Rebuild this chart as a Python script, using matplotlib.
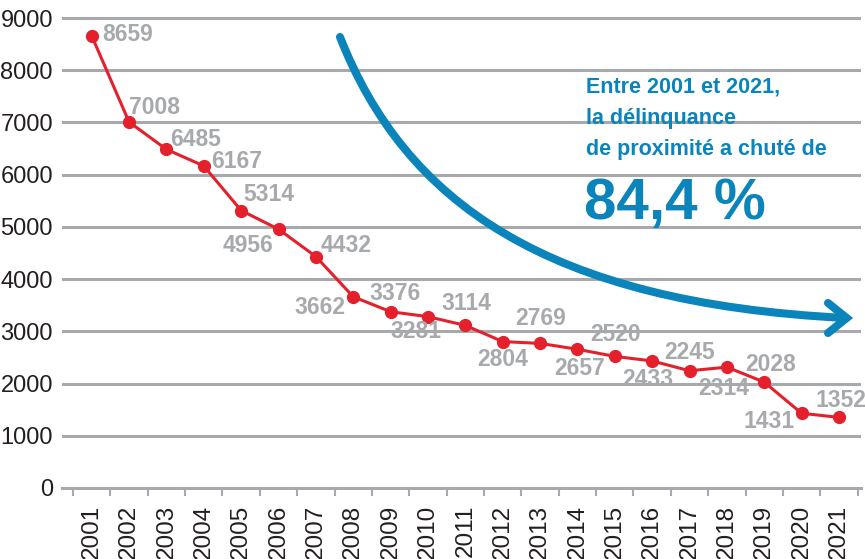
import matplotlib
matplotlib.use("Agg")
import matplotlib.pyplot as plt
from matplotlib.path import Path
from matplotlib.patches import PathPatch
from matplotlib.ticker import MultipleLocator, FixedLocator

years = list(range(2001, 2022))
values = [8659, 7008, 6485, 6167, 5314, 4956, 4432, 3662, 3376, 3281, 3114,
          2804, 2769, 2657, 2520, 2433, 2245, 2314, 2028, 1431, 1352]
# label centre offsets from each point, in pixels (x right, y up)
label_offsets = [(36, 1), (25, 15), (29, 10), (33, 4), (28, 16), (-31, -16),
                 (30, 11), (-33, -11), (4, 18), (-12, -15), (1, 22), (0, -18),
                 (1, 25), (2, -19), (1, 22), (-4, -19), (0, 18), (-3, -21),
                 (6, 18), (-33, -8), (2, 17)]
note_lines = ["Entre 2001 et 2021,", "la délinquance", "de proximité a chuté de"]
note_big = "84,4 %"

W, H = 865, 559
grey = "#a7a9ac"
red = "#e3202b"
blue = "#0a84bb"
plt.rcParams['font.family'] = ['Liberation Sans', 'DejaVu Sans']

fig = plt.figure(figsize=(W / 100, H / 100), dpi=100)
ax = fig.add_axes([62 / W, 1 - 488 / H, (861 - 62) / W, (488 - 12.8) / H])

ax.plot(years, values, color=red, lw=2.2, marker="o", ms=8.5, zorder=3,
        clip_on=False)
for x, v, (dx, dy) in zip(years, values, label_offsets):
    ax.annotate(str(v), (x, v), xytext=(dx, dy), textcoords="offset pixels",
                ha="center", va="center", fontsize=16.5, fontweight="bold",
                color=grey, zorder=4)

ax.set_xlim(2000.205, 2021.59)
ax.set_ylim(0, 9100)
ax.yaxis.set_major_locator(MultipleLocator(1000))
ax.grid(axis="y", color=grey, lw=2.2)
ax.set_axisbelow(True)
for s in ["top", "right", "left"]:
    ax.spines[s].set_visible(False)
ax.spines["bottom"].set_color(grey)
ax.spines["bottom"].set_linewidth(2.2)

ax.xaxis.set_major_locator(FixedLocator(years))
ax.xaxis.set_minor_locator(FixedLocator([y - 0.5 for y in years] + [2021.5]))
ax.set_xticklabels([str(y) for y in years], rotation=90, fontsize=17.5,
                   va="top", color="#231f20")
ax.tick_params(axis="x", which="major", length=0, pad=12)
ax.tick_params(axis="x", which="minor", length=6, width=1.5, color=grey)
ax.tick_params(axis="y", length=0, pad=6.5, labelsize=17,
               labelcolor="#231f20")

# curved arrow, drawn in figure pixels
def fp(x, y):
    return (x / W, 1 - y / H)

curve = Path([fp(340, 37), fp(405, 202), fp(546, 303), fp(846, 318)],
             [Path.MOVETO, Path.CURVE4, Path.CURVE4, Path.CURVE4])
fig.add_artist(PathPatch(curve, fill=False, ec=blue, lw=5.8,
                         capstyle="round", transform=fig.transFigure))
head = Path([fp(828, 303), fp(846.7, 318), fp(828, 333)],
            [Path.MOVETO, Path.LINETO, Path.LINETO])
fig.add_artist(PathPatch(head, fill=False, ec=blue, lw=5.8,
                         capstyle="round", joinstyle="miter",
                         transform=fig.transFigure))

for i, line in enumerate(note_lines):
    fig.text(586 / W, 1 - (93 + 31 * i) / H, line, fontsize=15.5,
             fontweight="bold", color=blue, ha="left", va="baseline")
fig.text(584 / W, 1 - 219 / H, note_big, fontsize=42, fontweight="bold",
         color=blue, ha="left", va="baseline")

fig.savefig("out.png", dpi=100)
